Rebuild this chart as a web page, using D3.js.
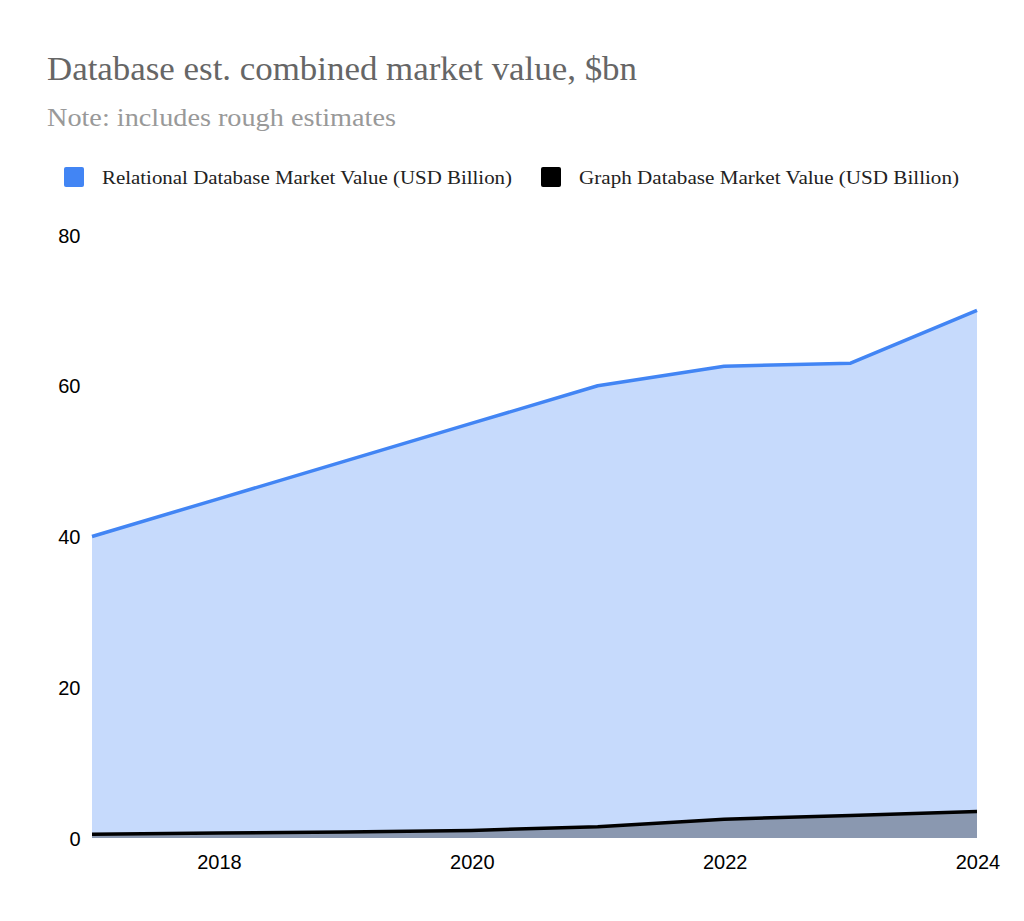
<!DOCTYPE html>
<html><head><meta charset="utf-8">
<script src="https://cdn.jsdelivr.net/npm/d3@7"></script>
<style>body{margin:0;background:#fff}</style>
</head><body>
<svg id="c" width="1024" height="921"></svg>
<script>
const years = [2017, 2018, 2019, 2020, 2021, 2022, 2023, 2024];
const relational = [40, 45, 50, 55, 60, 62.6, 63.0, 70.0];
const graph = [0.5, 0.65, 0.8, 1.0, 1.5, 2.5, 3.0, 3.5];
const yTicks = [0, 20, 40, 60, 80];
const xTicks = [2018, 2020, 2022, 2024];
const seriesNames = ["Relational Database Market Value (USD Billion)", "Graph Database Market Value (USD Billion)"];
const seriesColors = ["#4285F4", "#000000"];

const svg = d3.select("#c");
const x = d3.scaleLinear().domain([2017, 2024]).range([92, 977]);
const y = d3.scaleLinear().domain([0, 80]).range([838, 235]);

svg.append("text").attr("x", 47).attr("y", 80).attr("font-family", "Liberation Serif, serif")
  .attr("font-size", 33).attr("fill", "#666").attr("textLength", 590).attr("lengthAdjust", "spacingAndGlyphs")
  .text("Database est. combined market value, $bn");
svg.append("text").attr("x", 47).attr("y", 126).attr("font-family", "Liberation Serif, serif")
  .attr("font-size", 25).attr("fill", "#999").attr("textLength", 349).attr("lengthAdjust", "spacingAndGlyphs")
  .text("Note: includes rough estimates");

// legend
const legX = [64, 541];
const legW = [410, 380];
seriesNames.forEach((n, i) => {
  svg.append("rect").attr("x", legX[i]).attr("y", 167).attr("width", 20).attr("height", 20)
    .attr("rx", 2).attr("fill", seriesColors[i]);
  svg.append("text").attr("x", legX[i] + 38).attr("y", 184).attr("font-family", "Liberation Serif, serif")
    .attr("font-size", 19).attr("fill", "#222").attr("textLength", legW[i]).attr("lengthAdjust", "spacingAndGlyphs")
    .text(n);
});

const data = [relational, graph];
data.forEach((vals, i) => {
  const pts = years.map((yr, j) => [yr, vals[j]]);
  const area = d3.area().x(d => x(d[0])).y0(y(0)).y1(d => y(d[1]));
  svg.append("path").attr("d", area(pts)).attr("fill", seriesColors[i]).attr("fill-opacity", 0.3);
});
data.forEach((vals, i) => {
  const pts = years.map((yr, j) => [yr, vals[j]]);
  const line = d3.line().x(d => x(d[0])).y(d => y(d[1]));
  svg.append("path").attr("d", line(pts)).attr("fill", "none").attr("stroke", seriesColors[i])
    .attr("stroke-width", 3.5).attr("stroke-linejoin", "round");
});

// axes
const yAxis = d3.axisLeft(y).tickValues(yTicks).tickSize(0).tickPadding(0);
const gy = svg.append("g").attr("transform", "translate(80.5,0)").call(yAxis);
gy.select(".domain").remove();
gy.selectAll("text").attr("font-family", "Liberation Sans, Arial, sans-serif").attr("font-size", 20)
  .attr("fill", "#000").attr("dy", "0.35em");

const xAxis = d3.axisBottom(x).tickValues(xTicks).tickFormat(d3.format("d")).tickSize(0).tickPadding(0);
const gx = svg.append("g").attr("transform", "translate(0.5,855)").call(xAxis);
gx.select(".domain").remove();
gx.selectAll("text").attr("font-family", "Liberation Sans, Arial, sans-serif").attr("font-size", 20)
  .attr("fill", "#000").attr("dy", "0.71em");
</script>
</body></html>
